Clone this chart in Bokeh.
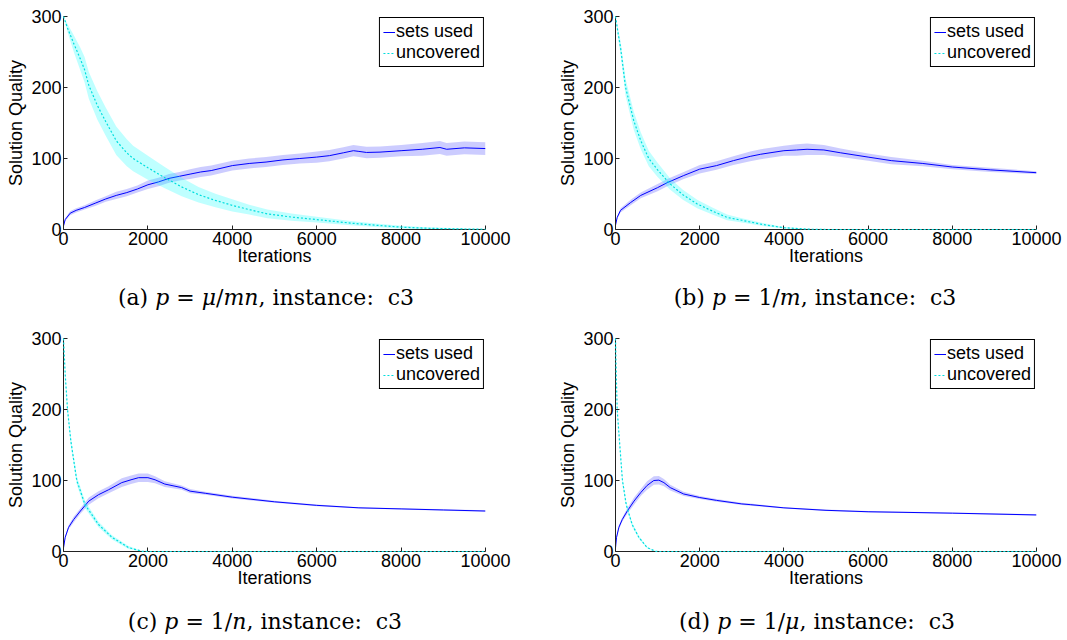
from bokeh.plotting import figure
from bokeh.models import Range1d, FixedTicker, Legend, LegendItem, Div
from bokeh.layouts import column, row
from bokeh.embed import file_html
from bokeh.resources import INLINE
import numpy as np

# ---------------- data ----------------
# (a) p = mu/mn
a_sets_it = [0, 40, 160, 300, 500, 750, 1000, 1250, 1500, 1750, 2000, 2250, 2500, 2750, 3000, 3250, 3500,
             4000, 4400, 4800, 5200, 5600, 6000, 6300, 6630, 6870, 7000, 7180, 7500, 8000, 8500, 8920, 9080,
             9500, 10000]
a_sets = [5, 14, 23, 27, 31, 37, 43, 48, 52, 57, 63, 67, 72, 75, 78, 81, 83,
          90, 93, 95, 98, 100, 102, 104, 108, 111, 110, 108.5, 109, 111, 113, 115.5, 113,
          115, 114]
a_sets_sd = [1, 2, 3, 3, 3, 4, 4, 5, 5, 5, 6, 6, 6, 6, 7, 7, 7,
             7, 7, 7, 7, 7, 8, 8, 8, 8, 8, 8, 8, 8, 9, 9, 9,
             9, 9]
a_unc_it = [0, 100, 250, 400, 500, 600, 800, 1000, 1250, 1500, 1650, 2000, 2400, 2800, 3200, 3600, 4000,
            4400, 4830, 5400, 6000, 6800, 7400, 8000, 8600, 9200, 10000]
a_unc = [300, 283, 261, 240, 225, 203, 175, 152, 125, 108, 100, 87, 73, 60, 49, 41, 34,
         28, 22, 17.5, 14, 9, 6, 3.3, 1.8, 1, 0.3]
a_unc_sd = [0, 6, 12, 16, 18, 19, 20, 20, 20, 19, 18, 17, 15, 13, 11, 9.5, 8.5,
            7, 6, 5, 4, 3, 2.5, 2, 1.5, 1, 0.5]

# (b) p = 1/m
b_sets_it = [0, 40, 120, 360, 600, 1000, 1230, 1620, 2000, 2400, 2800, 3200, 3450, 4000, 4300, 4550,
             4950, 5350, 6000, 6550, 7300, 8000, 8900, 10000]
b_sets = [6, 17, 27, 38, 48, 59, 66, 76, 85, 90, 97, 103, 106, 111, 112, 113,
          112, 108, 102, 97, 93, 88, 84, 80]
b_sets_sd = [1, 2, 3, 4, 4, 5, 5, 5, 6, 6, 6, 7, 7, 7, 8, 8,
             7, 6, 5, 5, 4, 3, 3, 2]
b_unc_it = [0, 60, 120, 240, 435, 600, 790, 1000, 1300, 1600, 1940, 2300, 2650, 3000, 3500, 4000,
            4550, 5000, 6000, 8000, 10000]
b_unc = [300, 277, 256, 200, 153, 125, 100, 84, 64, 49, 36, 26, 17, 13, 7, 2.5,
         0.5, 0, 0, 0, 0]
b_unc_sd = [0, 6, 9, 12, 13, 12, 11, 10, 8, 7, 6, 5, 4, 3, 2, 1,
            0.5, 0, 0, 0, 0]

# (c) p = 1/n
c_sets_it = [0, 40, 120, 240, 400, 600, 830, 1070, 1380, 1600, 1780, 2000, 2170, 2400, 2800, 3000,
             3360, 4000, 5000, 6000, 7000, 8000, 9000, 10000]
c_sets = [5, 20, 34, 45, 57, 71, 80, 87, 97, 101, 104, 104, 101, 95, 90, 85,
          82, 76.5, 70, 65, 61.5, 60, 58.5, 57]
c_sets_sd = [1, 2, 3, 4, 4, 5, 5, 5, 6, 6, 6, 6, 5, 4, 3, 3,
             2, 2, 1.5, 1.2, 1, 1, 1, 1]
c_unc_it = [0, 40, 95, 175, 315, 510, 830, 1150, 1540, 1860, 2000, 4000, 10000]
c_unc = [300, 250, 200, 155, 100, 66, 38, 20, 5.6, 0.3, 0, 0, 0]
c_unc_sd = [0, 5, 6, 6, 6, 5, 4, 3, 2, 0.5, 0, 0, 0]

# (d) p = 1/mu
d_sets_it = [0, 25, 80, 160, 280, 440, 600, 750, 910, 1030, 1150, 1300, 1620, 2000, 2400, 3000,
             3200, 4000, 5000, 6000, 8000, 10000]
d_sets = [5, 20, 34, 45, 57, 71, 83, 93, 100, 100.5, 97, 90, 81, 76, 72, 67,
          66, 61.5, 58, 56, 54, 51.5]
d_sets_sd = [1, 2, 3, 3, 4, 5, 5, 6, 6, 6, 5, 4, 3, 2, 2, 1.5,
             1.5, 1, 1, 1, 1, 1]
d_unc_it = [0, 20, 40, 95, 165, 255, 395, 555, 750, 950, 1000, 10000]
d_unc = [300, 245, 200, 155, 100, 66, 38, 20, 5.6, 0.3, 0, 0]
d_unc_sd = [0, 4, 5, 5, 5, 4, 3, 2, 1, 0.3, 0, 0]

x_ticks = [0, 2000, 4000, 6000, 8000, 10000]
y_ticks = [0, 100, 200, 300]
captions = [
    '(a) <i>p</i> = <i>&mu;</i>/<i>mn</i>, instance:&nbsp; c3',
    '(b) <i>p</i> = 1/<i>m</i>, instance:&nbsp; c3',
    '(c) <i>p</i> = 1/<i>n</i>, instance:&nbsp; c3',
    '(d) <i>p</i> = 1/<i>&mu;</i>, instance:&nbsp; c3',
]

FONT = "Liberation Sans"


def make_panel(frame_w, border_r, s_it, s_v, s_sd, u_it, u_v, u_sd):
    p = figure(frame_width=frame_w, frame_height=213,
               min_border_left=63, min_border_right=border_r,
               min_border_top=16, min_border_bottom=43,
               x_range=Range1d(0, 10000), y_range=Range1d(0, 300),
               output_backend="svg", toolbar_location=None)
    p.outline_line_color = None
    p.xgrid.grid_line_color = None
    p.ygrid.grid_line_color = None
    p.background_fill_color = "white"
    p.border_fill_color = "white"

    s_it = np.array(s_it, float); s_v = np.array(s_v, float); s_sd = np.array(s_sd, float)
    u_it = np.array(u_it, float); u_v = np.array(u_v, float); u_sd = np.array(u_sd, float)

    p.varea(x=s_it, y1=np.maximum(s_v - s_sd, 0), y2=s_v + s_sd,
            fill_color="#0000ff", fill_alpha=0.2)
    r_s = p.line(s_it, s_v, line_color="#0000ff", line_width=1.0)
    p.varea(x=u_it, y1=np.maximum(u_v - u_sd, 0), y2=u_v + u_sd,
            fill_color="#00ffff", fill_alpha=0.25)
    r_u = p.line(u_it, u_v, line_color="#00dede", line_width=1.2, line_dash="2 2",
                 level="overlay")

    for ax in (p.xaxis[0], p.yaxis[0]):
        ax.major_tick_in = 4
        ax.major_tick_out = 0
        ax.minor_tick_in = 0
        ax.minor_tick_out = 0
        ax.axis_line_color = "#222222"
        ax.axis_line_width = 1
        ax.major_tick_line_color = "#222222"
        ax.major_label_text_font = FONT
        ax.major_label_text_font_size = "18px"
        ax.major_label_text_color = "black"
        ax.axis_label_text_font = FONT
        ax.axis_label_text_font_size = "18px"
        ax.axis_label_text_font_style = "normal"
        ax.axis_label_text_color = "black"
    p.xaxis.ticker = FixedTicker(ticks=x_ticks)
    p.yaxis.ticker = FixedTicker(ticks=y_ticks)
    p.xaxis.axis_label = "Iterations"
    p.yaxis.axis_label = "Solution Quality"
    p.xaxis.major_label_standoff = 2
    p.xaxis.axis_label_standoff = -2
    p.yaxis.major_label_standoff = 2
    p.yaxis.axis_label_standoff = 2

    leg = Legend(items=[LegendItem(label="sets used", renderers=[r_s]),
                        LegendItem(label="uncovered", renderers=[r_u])],
                 location="top_right")
    leg.border_line_color = "black"
    leg.border_line_width = 1.5
    leg.border_line_alpha = 1
    leg.label_text_font = FONT
    leg.label_text_font_size = "18px"
    leg.label_text_color = "black"
    leg.padding = 3
    leg.spacing = 0
    leg.margin = 1
    leg.glyph_width = 12
    leg.glyph_height = 20
    leg.label_height = 20
    leg.label_standoff = 1
    leg.background_fill_alpha = 1
    p.add_layout(leg)
    return p


def make_caption(html, fig_left, fig_w, center, h, pad):
    ml = center - 200 - fig_left
    text = ('<div style="font-family:\'DejaVu Serif\';font-size:22px;line-height:25px;'
            'text-align:center;width:400px;margin-left:%dpx;padding-top:%dpx;color:#000;'
            'white-space:nowrap">%s</div>' % (ml, pad, html))
    return Div(text=text, width=fig_w, height=h, margin=0)


pa = make_panel(422, 67, a_sets_it, a_sets, a_sets_sd, a_unc_it, a_unc, a_unc_sd)
pb = make_panel(421, 31, b_sets_it, b_sets, b_sets_sd, b_unc_it, b_unc, b_unc_sd)
pc = make_panel(422, 67, c_sets_it, c_sets, c_sets_sd, c_unc_it, c_unc, c_unc_sd)
pd_ = make_panel(421, 31, d_sets_it, d_sets, d_sets_sd, d_unc_it, d_unc, d_unc_sd)

ca = make_caption(captions[0], 0, 552, 266, 50, 13)
cb = make_caption(captions[1], 552, 515, 815, 50, 13)
cc = make_caption(captions[2], 0, 552, 265, 46, 15)
cd = make_caption(captions[3], 552, 515, 817, 46, 15)

layout = column(row(pa, pb), row(ca, cb), row(pc, pd_), row(cc, cd))

open("out.html", "w").write(file_html(layout, INLINE))
